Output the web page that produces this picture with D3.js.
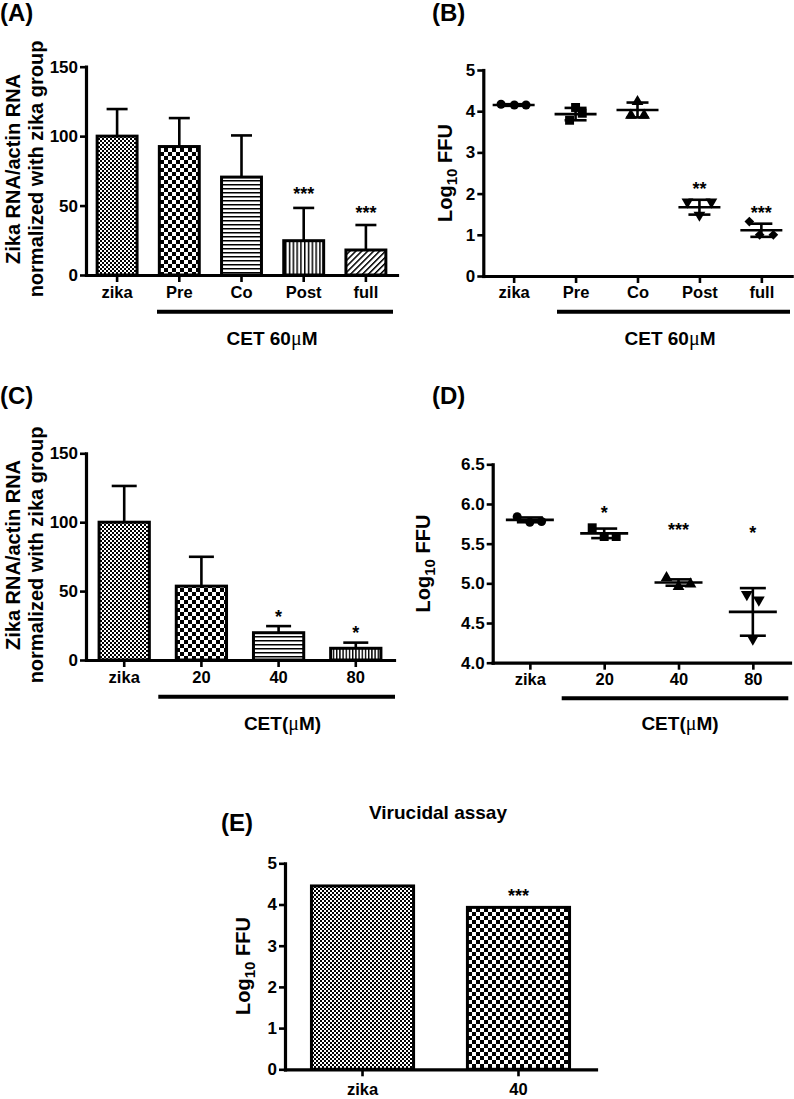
<!DOCTYPE html>
<html><head><meta charset="utf-8">
<script src="https://cdn.jsdelivr.net/npm/d3@7"></script>
<style>
body{margin:0;background:#fff}
svg{display:block}
text{font-family:"Liberation Sans",Arial,sans-serif;font-weight:bold;fill:#000}
</style></head><body>
<svg id="fig" width="794" height="1099"></svg>
<script>
// ---------------- DATA ----------------
// Panel A: bar chart, Zika RNA (normalized), CET 60 uM timing
const aCategories = ["zika", "Pre", "Co", "Post", "full"];
const aMeans = [100, 92.5, 70.5, 24.7, 18];
const aErrors = [19.5, 20.5, 30, 23.6, 18];
const aStars = ["", "", "", "***", "***"];
const aStarLevels = [null, null, null, 61, 47.5];
const aTicks = [0, 50, 100, 150];

// Panel B: scatter, Log10 FFU
const bCategories = ["zika", "Pre", "Co", "Post", "full"];
const bPoints = [[4.17, 4.15, 4.15], [3.78, 4.09, 3.95], [4.23, 3.90, 3.90], [1.80, 1.80, 1.48], [1.32, 1.00, 1.00]];
const bMeans = [4.15, 3.93, 4.03, 1.67, 1.11];
const bSD = [0.02, 0.15, 0.18, 0.18, 0.16];
const bStars = ["", "", "", "**", "***"];
const bStarLevels = [null, null, null, 2.21, 1.62];
const bTicks = [0, 1, 2, 3, 4, 5];

// Panel C: bar chart, dose response
const cCategories = ["zika", "20", "40", "80"];
const cMeans = [100, 53.6, 19.8, 8.5];
const cErrors = [26.3, 21.3, 4.8, 4.1];
const cStars = ["", "", "*", "*"];
const cStarLevels = [null, null, 34.3, 22.2];
const cTicks = [0, 50, 100, 150];

// Panel D: scatter, dose response Log10 FFU
const dCategories = ["zika", "20", "40", "80"];
const dPoints = [[5.84, 5.77, 5.78], [5.70, 5.59, 5.59], [5.07, 4.96, 4.99], [4.86, 4.79, 4.30]];
const dMeans = [5.80, 5.63, 5.01, 4.64];
const dSD = [0.03, 0.06, 0.04, 0.30];
const dStars = ["", "*", "***", "*"];
const dStarLevels = [null, 5.94, 5.72, 5.68];
const dTicks = [4.0, 4.5, 5.0, 5.5, 6.0, 6.5];

// Panel E: virucidal assay
const eCategories = ["zika", "40"];
const eMeans = [4.45, 3.93];
const eStars = ["", "***"];
const eStarLevels = [null, 4.31];
const eTicks = [0, 1, 2, 3, 4, 5];

// ---------------- DRAWING ----------------
const svg = d3.select("#fig");
const defs = svg.append("defs");
function pat(id, w, h, rects, rotate) {
  const p = defs.append("pattern").attr("id", id).attr("patternUnits", "userSpaceOnUse")
    .attr("width", w).attr("height", h);
  if (rotate) p.attr("patternTransform", `rotate(${rotate})`);
  p.append("rect").attr("width", w).attr("height", h).attr("fill", "#fff");
  rects.forEach(r => p.append("rect").attr("x", r[0]).attr("y", r[1]).attr("width", r[2]).attr("height", r[3]).attr("fill", "#000"));
}
pat("fineCheck", 4, 4, [[0, 0, 2, 2], [2, 2, 2, 2]]);
pat("bigCheck", 8, 8, [[0, 0, 4, 4], [4, 4, 4, 4]]);
pat("hLines", 4, 4, [[0, 0, 4, 1.5]]);
pat("vLines", 3.8, 4, [[0, 0, 1.5, 4]]);
pat("vLinesC", 3.2, 4, [[0, 0, 1.4, 4]]);
pat("diag", 4.2, 4.2, [[0, 0, 1.5, 4.2]], 45);

const FONT = "'Liberation Sans', Arial, sans-serif";

function styleAxis(a, size) {
  a.attr("font-family", FONT).attr("font-size", size).attr("font-weight", "bold");
  a.select(".domain").attr("stroke", "#000").attr("stroke-width", 3.2).attr("stroke-linecap", "square");
  a.selectAll(".tick line").attr("stroke", "#000").attr("stroke-width", 2.6);
  a.selectAll(".tick text").attr("fill", "#000");
}

function panelLabel(txt, x, y) {
  svg.append("text").attr("x", x).attr("y", y).attr("font-size", 24).text(txt);
}

function yLabelLines(lines, baselines, cy) {
  lines.forEach((t, i) => {
    svg.append("text").attr("transform", `translate(${baselines[i]},${cy}) rotate(-90)`)
      .attr("text-anchor", "middle").attr("font-size", 20).text(t);
  });
}
function yLabelLog(bx, cy) {
  const t = svg.append("text").attr("transform", `translate(${bx},${cy}) rotate(-90)`)
    .attr("text-anchor", "middle").attr("font-size", 20);
  t.append("tspan").text("Log");
  t.append("tspan").attr("font-size", 15).attr("dy", 5).text("10");
  t.append("tspan").attr("dy", -5).text(" FFU");
}

function groupLabel(x1, x2, ly, tx, ty, parts) {
  svg.append("line").attr("x1", x1).attr("x2", x2).attr("y1", ly).attr("y2", ly)
    .attr("stroke", "#000").attr("stroke-width", 4);
  const t = svg.append("text").attr("x", tx).attr("y", ty).attr("text-anchor", "middle").attr("font-size", 19);
  t.append("tspan").text(parts[0]);
  t.append("tspan").attr("font-family", "'Liberation Serif', serif").attr("font-weight", "normal").attr("font-size", 20).text("\u03bc");
  t.append("tspan").text(parts[1]);
}

function stars(g, xPos, y, list, levels) {
  list.forEach((s, i) => {
    if (!s) return;
    g.append("text").attr("x", xPos(i)).attr("y", y(levels[i]) + 10)
      .attr("text-anchor", "middle").attr("font-size", 18).text(s);
  });
}

function barPanel(o) {
  const g = svg.append("g");
  const x = d3.scaleBand().domain(o.cats).range(o.xr).paddingInner(o.pi).paddingOuter(o.po);
  const y = d3.scaleLinear().domain(o.yd).range(o.yr);
  const cx = c => x(c) + x.bandwidth() / 2;
  if (o.errs) {
    const eg = g.append("g").attr("stroke", "#000").attr("stroke-width", 2.6);
    o.cats.forEach((c, i) => {
      const top = y(o.means[i] + o.errs[i]);
      eg.append("line").attr("x1", cx(c)).attr("x2", cx(c)).attr("y1", y(o.means[i])).attr("y2", top);
      eg.append("line").attr("x1", cx(c) - o.cap / 2).attr("x2", cx(c) + o.cap / 2).attr("y1", top).attr("y2", top);
    });
  }
  g.append("g").selectAll("rect").data(o.cats).join("rect")
    .attr("x", c => x(c) + 1.5).attr("width", x.bandwidth() - 3)
    .attr("y", (c, i) => y(o.means[i])).attr("height", (c, i) => y(o.yd[0]) - y(o.means[i]))
    .attr("fill", (c, i) => `url(#${o.fills[i]})`).attr("stroke", "#000").attr("stroke-width", 3);
  const ya = g.append("g").attr("transform", `translate(${o.xr[0]},0)`)
    .call(d3.axisLeft(y).tickValues(o.ticks).tickSize(6).tickPadding(2).tickSizeOuter(0).tickFormat(o.fmt || d3.format("d")));
  const xa = g.append("g").attr("transform", `translate(0,${o.yr[0]})`)
    .call(d3.axisBottom(x).tickSize(7).tickPadding(o.xPad).tickSizeOuter(0));
  styleAxis(ya, 17); styleAxis(xa, 16.5);
  stars(g, i => cx(o.cats[i]), y, o.stars, o.starLevels);
}

function scatterPanel(o) {
  const g = svg.append("g");
  const x = d3.scalePoint().domain(o.cats).range(o.xr).padding(o.pad);
  const y = d3.scaleLinear().domain(o.yd).range(o.yr);
  o.cats.forEach((c, i) => {
    const sym = o.symbols[i];
    o.points[i].forEach((v, j) => {
      g.append("path").attr("d", d3.symbol().type(sym.type).size(sym.size)())
        .attr("transform", `translate(${x(c) + o.jitter[i][j]},${y(v)}) rotate(${sym.rot || 0})`)
        .attr("fill", "#000");
    });
    const lg = g.append("g").attr("stroke", "#000").attr("stroke-width", 2.6);
    const m = y(o.means[i]), hi = y(o.means[i] + o.sd[i]), lo = y(o.means[i] - o.sd[i]);
    lg.append("line").attr("x1", x(c) - o.meanW / 2).attr("x2", x(c) + o.meanW / 2).attr("y1", m).attr("y2", m);
    lg.append("line").attr("x1", x(c)).attr("x2", x(c)).attr("y1", hi).attr("y2", lo);
    [hi, lo].forEach(yy => lg.append("line").attr("x1", x(c) - o.capW / 2).attr("x2", x(c) + o.capW / 2).attr("y1", yy).attr("y2", yy));
  });
  const ya = g.append("g").attr("transform", `translate(${o.xr[0]},0)`)
    .call(d3.axisLeft(y).tickValues(o.ticks).tickSize(6).tickPadding(2).tickSizeOuter(0).tickFormat(o.fmt || d3.format("d")));
  const xa = g.append("g").attr("transform", `translate(0,${o.yr[0]})`)
    .call(d3.axisBottom(x).tickSize(7).tickPadding(o.xPad).tickSizeOuter(0));
  styleAxis(ya, 17); styleAxis(xa, 16.5);
  stars(g, i => x(o.cats[i]), y, o.stars, o.starLevels);
}

const triDown = { type: d3.symbolTriangle, size: 60, rot: 180 };

// Panel A
panelLabel("(A)", 0, 21);
barPanel({
  cats: aCategories, means: aMeans, errs: aErrors, ticks: aTicks,
  xr: [86, 397], yr: [275, 66.7], yd: [0, 150], pi: 0.31, po: 0.155, cap: 21, xPad: 4.2,
  fills: ["fineCheck", "bigCheck", "hLines", "vLines", "diag"],
  stars: aStars, starLevels: aStarLevels
});
yLabelLines(["Zika RNA/actin RNA", "normalized with zika group"], [20, 43], 169);
groupLabel(157, 393, 311.7, 272, 345, ["CET 60", "M"]);

// Panel B
panelLabel("(B)", 432, 21);
scatterPanel({
  cats: bCategories, points: bPoints, means: bMeans, sd: bSD, ticks: bTicks,
  xr: [483.3, 791.7], yr: [276, 70], yd: [0, 5], pad: 0.49, xPad: 3.4, meanW: 42, capW: 22,
  jitter: [[-12.6, 0.7, 12.4], [-6, 0, 6.7], [0, -6.6, 6.6], [-12, 12, 0], [-12, -1.7, 12]],
  symbols: [{ type: d3.symbolCircle, size: 64 }, { type: d3.symbolSquare, size: 80 }, { type: d3.symbolTriangle, size: 60 }, triDown, { type: d3.symbolDiamond2, size: 60 }],
  stars: bStars, starLevels: bStarLevels
});
yLabelLog(451.7, 173);
groupLabel(557, 790, 311.7, 670, 345, ["CET 60", "M"]);

// Panel C
panelLabel("(C)", 0, 404);
barPanel({
  cats: cCategories, means: cMeans, errs: cErrors, ticks: cTicks,
  xr: [86, 394], yr: [660, 453.3], yd: [0, 150], pi: 0.31, po: 0.15, cap: 25, xPad: 4.2,
  fills: ["fineCheck", "bigCheck", "hLines", "vLinesC"],
  stars: cStars, starLevels: cStarLevels
});
yLabelLines(["Zika RNA/actin RNA", "normalized with zika group"], [20, 43], 555);
groupLabel(158.3, 395, 696.7, 282.5, 730, ["CET(", "M)"]);

// Panel D
panelLabel("(D)", 432, 404);
scatterPanel({
  cats: dCategories, points: dPoints, means: dMeans, sd: dSD, ticks: dTicks, fmt: d3.format(".1f"),
  xr: [492.7, 790], yr: [662.7, 464.3], yd: [4, 6.5], pad: 0.5, xPad: 3.8, meanW: 48, capW: 26,
  jitter: [[-12.7, 0, 11.7], [-12, 0, 12], [-12, 0, 12], [-6, 6, 0]],
  symbols: [{ type: d3.symbolCircle, size: 64 }, { type: d3.symbolSquare, size: 80 }, { type: d3.symbolTriangle, size: 60 }, triDown],
  stars: dStars, starLevels: dStarLevels
});
yLabelLog(430, 563.5);
groupLabel(561.7, 788.3, 698.3, 680, 730, ["CET(", "M)"]);

// Panel E
panelLabel("(E)", 221, 831);
svg.append("text").attr("x", 438).attr("y", 819).attr("text-anchor", "middle").attr("font-size", 19).text("Virucidal assay");
barPanel({
  cats: eCategories, means: eMeans, errs: null, ticks: eTicks,
  xr: [285, 596], yr: [1069.3, 863.3], yd: [0, 5], pi: 0.326, po: 0.16, cap: 0, xPad: 6.5,
  fills: ["fineCheck", "bigCheck"],
  stars: eStars, starLevels: eStarLevels
});
yLabelLog(250, 966);
</script>
</body></html>
